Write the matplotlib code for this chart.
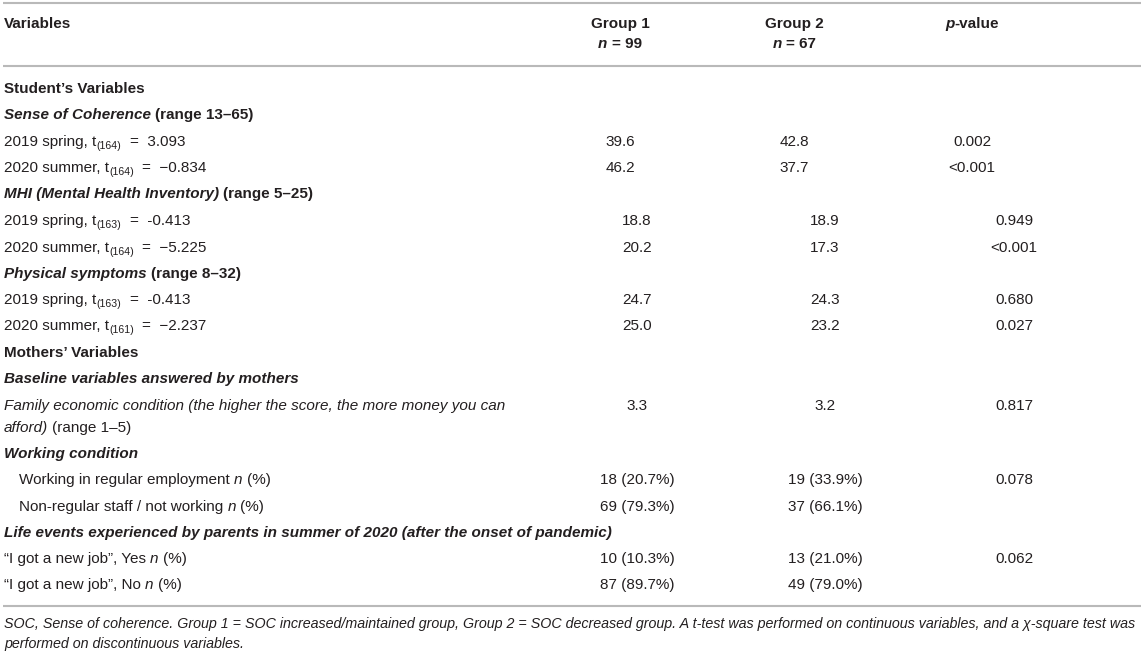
import matplotlib
matplotlib.use('Agg')
import matplotlib.pyplot as plt
from matplotlib.font_manager import FontProperties

# ---- table content ----
group_names = ['Group 1', 'Group 2']
group_n = [99, 67]

# label of every body row, as (text, style) pieces; style: b=bold, i=italic, s=subscript
row_labels = [
    [("Student\u2019s Variables", 'b')],
    [("Sense of Coherence", 'bi'), (" (range 13\u201365)", 'b')],
    [("2019 spring, t", ''), ("(164)", 's'), ("  =  3.093", '')],
    [("2020 summer, t", ''), ("(164)", 's'), ("  =  \u22120.834", '')],
    [("MHI (Mental Health Inventory)", 'bi'), (" (range 5\u201325)", 'b')],
    [("2019 spring, t", ''), ("(163)", 's'), ("  =  -0.413", '')],
    [("2020 summer, t", ''), ("(164)", 's'), ("  =  \u22125.225", '')],
    [("Physical symptoms", 'bi'), (" (range 8\u201332)", 'b')],
    [("2019 spring, t", ''), ("(163)", 's'), ("  =  -0.413", '')],
    [("2020 summer, t", ''), ("(161)", 's'), ("  =  \u22122.237", '')],
    [("Mothers\u2019 Variables", 'b')],
    [("Baseline variables answered by mothers", 'bi')],
    [("Family economic condition (the higher the score, the more money you can", 'i')],
    [("afford)", 'i'), (" (range 1\u20135)", '')],
    [("Working condition", 'bi')],
    [("Working in regular employment ", ''), ("n", 'i'), (" (%)", '')],
    [("Non-regular staff / not working ", ''), ("n", 'i'), (" (%)", '')],
    [("Life events experienced by parents in summer of 2020 (after the onset of pandemic)", 'bi')],
    [("\u201cI got a new job\u201d, Yes ", ''), ("n", 'i'), (" (%)", '')],
    [("\u201cI got a new job\u201d, No ", ''), ("n", 'i'), (" (%)", '')],
]

# rows that carry numbers (index into row_labels) and their values
value_rows = [2, 3, 5, 6, 8, 9, 12, 15, 16, 18, 19]
group1 = ['39.6', '46.2', '18.8', '20.2', '24.7', '25.0', '3.3',
          '18 (20.7%)', '69 (79.3%)', '10 (10.3%)', '87 (89.7%)']
group2 = ['42.8', '37.7', '18.9', '17.3', '24.3', '23.2', '3.2',
          '19 (33.9%)', '37 (66.1%)', '13 (21.0%)', '49 (79.0%)']
p_values = ['0.002', '<0.001', '0.949', '<0.001', '0.680', '0.027', '0.817',
            '0.078', '', '0.062', '']

footnote = [
    "SOC, Sense of coherence. Group 1 = SOC increased/maintained group, Group 2 = SOC decreased group. "
    "A t-test was performed on continuous variables, and a \u03c7-square test was",
    "performed on discontinuous variables.",
]

# ---- layout ----
W, H = 1144, 653
FONT = 'Liberation Sans'
INK = '#231f20'
RULE = '#b9b9b9'
FS = 11

row_y = [88, 114, 141, 167, 193, 220, 247, 273, 299, 325, 352, 378,
         405, 427, 453, 479, 506, 532, 558, 584]
indent = {15: 19, 16: 19}
cols_top = [620, 794, 972]
cols_low = [637, 825, 1014]

fig = plt.figure(figsize=(W / 100, H / 100), dpi=100)
ax = fig.add_axes([0, 0, 1, 1])
ax.set_xlim(0, W)
ax.set_ylim(H, 0)
ax.axis('off')
renderer = fig.canvas.get_renderer()


def fprops(style, size):
    return FontProperties(family=FONT,
                          weight='bold' if 'b' in style else 'normal',
                          style='italic' if 'i' in style else 'normal',
                          size=size)


def advance(s, fp):
    w1 = renderer.get_text_width_height_descent('|' + s + '|', fp, ismath=False)[0]
    w0 = renderer.get_text_width_height_descent('||', fp, ismath=False)[0]
    return w1 - w0


def draw(x, yc, parts, ha='left', size=FS):
    base = yc + 5
    items = []
    for text, style in parts:
        sub = 's' in style
        fp = fprops(style, size * 0.7 if sub else size)
        items.append((text, fp, 3 if sub else 0))
    total = sum(advance(t, fp) for t, fp, _ in items)
    if ha == 'center':
        x -= total / 2
    for text, fp, dy in items:
        lead = len(text) - len(text.lstrip(' '))
        x0 = x + (advance(' ' * lead, fp) if lead else 0)
        ax.text(x0, base + dy, text.lstrip(' '), fontproperties=fp,
                color=INK, va='baseline', ha='left')
        x += advance(text, fp)


# rules
for y in [3, 66, 606]:
    ax.plot([3, 1141], [y, y], color=RULE, lw=1.5, solid_capstyle='butt')

# header
draw(4, 23, [("Variables", 'b')])
for i, name in enumerate(group_names):
    draw(cols_top[i], 23, [(name, 'b')], ha='center')
    draw(cols_top[i], 43, [("n", 'bi'), (f" = {group_n[i]}", 'b')], ha='center')
draw(cols_top[2], 23, [("p", 'bi'), ("-value", 'b')], ha='center')

# body
for r, parts in enumerate(row_labels):
    draw(indent.get(r, 4), row_y[r], parts)

for k, r in enumerate(value_rows):
    cols = cols_top if r in (2, 3) else cols_low
    for c, val in enumerate([group1[k], group2[k], p_values[k]]):
        if val:
            draw(cols[c], row_y[r], [(val, '')], ha='center')

# footnote
draw(4, 623, [(footnote[0], 'i')], size=10.3)
draw(4, 643, [(footnote[1], 'i')], size=10.3)

fig.savefig('out.png', dpi=100, facecolor='white')
